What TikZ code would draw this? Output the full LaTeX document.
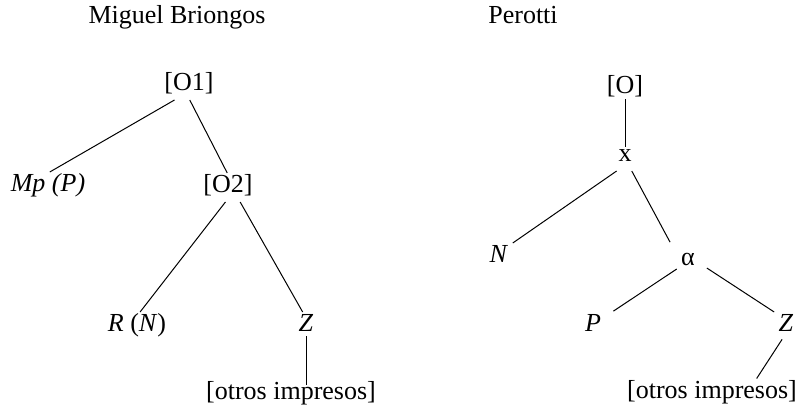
\documentclass[tikz,border=0pt]{standalone}
\usepackage{fontspec}
\setmainfont{Liberation Serif}

\begin{document}
\begin{tikzpicture}[x=0.5pt, y=-0.5pt, line width=0.5pt,
    font=\fontsize{13}{15}\selectfont,
    lbl/.style={inner sep=2pt, text height=0.75em, text depth=0.25em}]
  \useasboundingbox (0,0) rectangle (806,411);

  % headings
  \node[lbl] (MB) at (177,18.5) {Miguel Briongos};
  \node[lbl] (PE) at (523,18.5) {Perotti};

  % Miguel Briongos
  \node[lbl] (O1) at (189,85.5)  {[O1]};
  \node[lbl] (MP) at (48,186.5)  {\textit{Mp (P)}};
  \node[lbl] (O2) at (228,187.5) {[O2]};
  \node[lbl] (RN) at (137,326.5) {\textit{R} (\textit{N})};
  \node[lbl] (ZL) at (306,326.5) {\textit{Z}};
  \node[lbl] (OL) at (291,394.5) {[otros impresos]};

  \draw (O1.225) -- (MP.83);
  \draw (O1.273) -- (O2.93);
  \draw (O2.260) -- (RN.78);
  \draw (O2.310) -- (ZL.103);
  \draw[shorten <=-2.5pt, shorten >=-2.5pt] (ZL.south) -- (ZL.south |- OL.north);

  % Perotti
  \node[lbl] (O)  at (625,88.5)  {[O]};
  \node[lbl] (X)  at (625,156.5) {x};
  \node[lbl] (N)  at (499,257.5) {\textit{N}};
  \node[lbl] (AL) at (688,260.5) {α};
  \node[lbl] (P)  at (593,326.5) {\textit{P}};
  \node[lbl] (ZR) at (786,326.5) {\textit{Z}};
  \node[lbl] (OR) at (712,393)   {[otros impresos]};

  \draw[shorten <=-1.75pt, shorten >=-2.75pt] (O.south) -- (O.south |- X.north);
  \draw (X.240) -- (N.north east);
  \draw[shorten >=7pt] (X.295) -- (AL.152);
  \draw[shorten >=4.8pt] (AL.217) -- (P.39);
  \draw[shorten <=4.5pt] (AL.347) -- (ZR.north west);
  \draw[shorten <=-1pt] (ZR.251) -- (OR.18);
\end{tikzpicture}
\end{document}
